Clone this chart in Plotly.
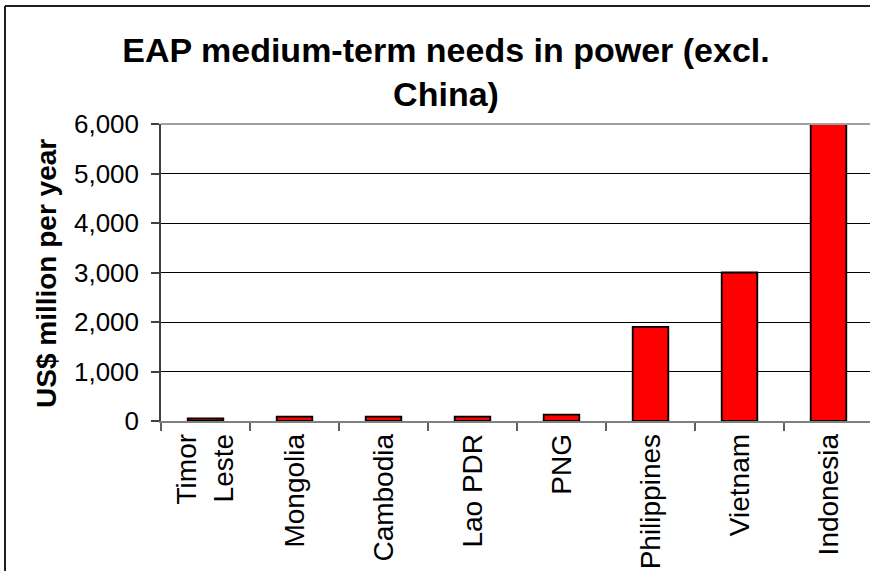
import plotly.graph_objects as go

# Medium-term power investment needs, US$ million per year
countries = ["Timor<br>Leste", "Mongolia", "Cambodia", "Lao PDR", "PNG",
             "Philippines", "Vietnam", "Indonesia"]
needs = [50, 90, 90, 90, 130, 1900, 3000, 6000]
y_ticks = [0, 1000, 2000, 3000, 4000, 5000, 6000]

W, H = 870, 571
L, R, T, B = 161, 0, 124, 150
plot_w = W - L - R
plot_h = H - T - B


def px_x(px):
    return (px - L) / plot_w


def px_y(py):
    return (H - B - py) / plot_h


FONT = "Arial, Liberation Sans, sans-serif"

fig = go.Figure(
    go.Bar(
        x=countries,
        y=needs,
        marker=dict(color="#FF0000", line=dict(color="#000000", width=1.8)),
    )
)

fig.update_layout(
    width=W,
    height=H,
    margin=dict(l=L, r=R, t=T, b=B, pad=0),
    paper_bgcolor="white",
    plot_bgcolor="white",
    bargap=0.6,
    showlegend=False,
    font=dict(family=FONT, color="black", size=25),
    title=dict(
        text="<b>EAP medium-term needs in power (excl.<br>China)</b>",
        font=dict(family=FONT, size=34, color="black"),
        x=446 / W,
        xanchor="center",
        xref="container",
        y=1 - 62 / H,
        yanchor="top",
        yref="container",
    ),
)

fig.update_xaxes(
    type="category",
    range=[-0.5, -0.5 + plot_w / 89],
    showline=True,
    linecolor="#808080",
    linewidth=1.5,
    ticks="outside",
    tickson="boundaries",
    ticklen=8,
    tickcolor="#606060",
    tickwidth=1.5,
    tickangle=-90,
    tickfont=dict(family=FONT, size=28, color="black"),
    showgrid=False,
)

fig.update_yaxes(
    range=[0, 6000],
    tickvals=y_ticks,
    tickformat=",",
    showline=True,
    linecolor="#404040",
    linewidth=1.5,
    ticks="outside",
    ticklen=8,
    tickcolor="#404040",
    tickwidth=1.5,
    ticklabelstandoff=7,
    tickfont=dict(family=FONT, size=26, color="black"),
    showgrid=True,
    gridcolor="black",
    gridwidth=1,
    zeroline=False,
)

fig.add_annotation(
    text="<b>US$ million per year</b>",
    textangle=-90,
    xref="paper",
    yref="paper",
    x=px_x(46),
    y=px_y(274),
    xanchor="center",
    yanchor="middle",
    showarrow=False,
    font=dict(family=FONT, size=28, color="black"),
)

shapes = [
    # plot area top edge
    dict(type="line", xref="paper", yref="paper", x0=0, x1=1, y0=1, y1=1,
         line=dict(color="#A0A0A0", width=2)),
    # chart frame (left and top edges)
    dict(type="line", xref="paper", yref="paper", x0=px_x(5), x1=px_x(5),
         y0=px_y(6), y1=px_y(H + 5), line=dict(color="#202020", width=2)),
    dict(type="line", xref="paper", yref="paper", x0=px_x(5), x1=px_x(W + 5),
         y0=px_y(6), y1=px_y(6), line=dict(color="#202020", width=2)),
]
fig.update_layout(shapes=shapes)

fig.write_html("out.html")
